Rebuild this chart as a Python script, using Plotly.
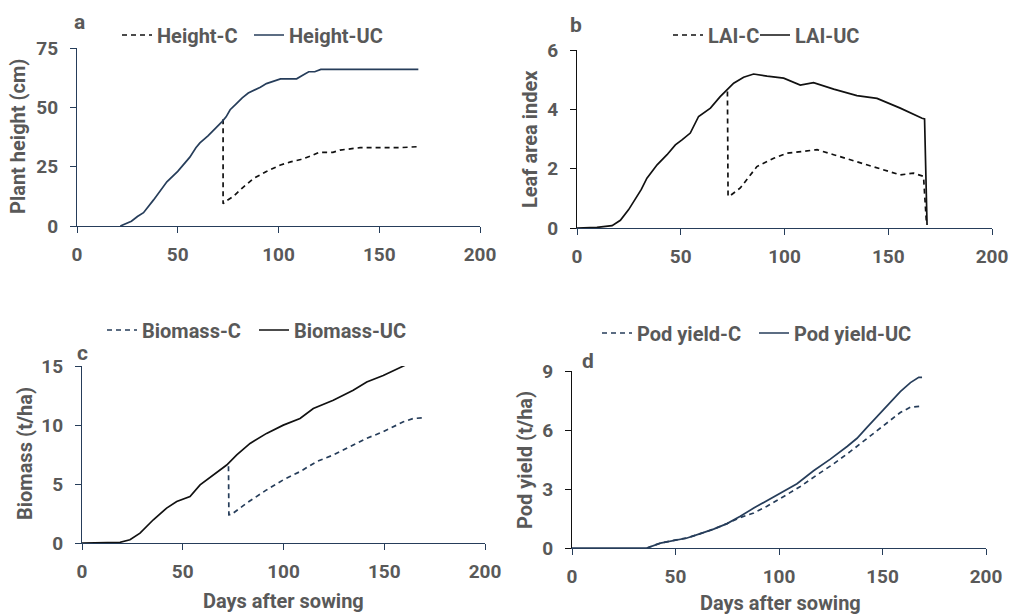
import plotly.graph_objects as go

# ---------------- data ----------------
# Panel a: plant height (cm)
h_uc_x = [21.5, 24, 27, 30, 33, 38, 44.6, 50, 53, 56, 59, 61, 65, 68, 72, 74, 76, 79, 82, 85, 87.6, 91, 94, 97, 101, 105, 109, 112, 115, 118, 121, 140, 169.4]
h_uc_y = [0, 0.8, 2, 4, 5.6, 11, 18.6, 23, 26, 29, 33, 35, 38, 40.5, 44, 46, 49, 51.5, 54, 56, 57, 58.5, 60, 61, 62, 62, 62, 63.5, 65, 65, 66, 66, 66]
h_c_x = [72.5, 72.5, 74, 77.7, 82, 87.6, 94, 101, 106, 111, 116, 120, 127, 130.6, 140.5, 150, 160, 168.6, 169.4]
h_c_y = [45, 9.4, 10.5, 12.5, 16, 20, 23, 25.7, 27, 28, 29.5, 31, 31, 32, 33, 33, 33, 33.4, 34.4]

# Panel b: leaf area index
l_uc_x = [0, 9.6, 16.9, 20.9, 24.9, 28.9, 31, 33.7, 38.6, 43.4, 47.4, 50.6, 54.6, 58.6, 64.3, 69, 72.3, 75.5, 80.3, 85.1, 91.6, 99.6, 107.6, 114, 123.7, 134.9, 144.6, 155.8, 166.3, 167.5, 168.7]
l_uc_y = [0, 0.02, 0.08, 0.26, 0.62, 1.07, 1.3, 1.68, 2.13, 2.47, 2.8, 2.97, 3.2, 3.76, 4.04, 4.43, 4.65, 4.88, 5.08, 5.19, 5.12, 5.05, 4.82, 4.9, 4.68, 4.46, 4.37, 4.04, 3.7, 3.68, 0.1]
l_c_x = [72.5, 72.8, 74, 78.7, 86.7, 94.8, 101.2, 107.6, 115.7, 123.7, 139.8, 147.8, 155.8, 162.2, 167, 168.4]
l_c_y = [4.6, 1.07, 1.1, 1.35, 2.07, 2.35, 2.52, 2.58, 2.64, 2.47, 2.13, 1.96, 1.79, 1.85, 1.74, 0.17]

# Panel c: biomass (t/ha)
b_uc_x = [0, 18.9, 23.8, 28.8, 35.4, 42, 47, 53.6, 58.6, 65.2, 71.8, 76.8, 83.4, 91.6, 99.9, 108.2, 114.8, 124.7, 134.6, 141.3, 149.5, 160.3]
b_uc_y = [0, 0.06, 0.28, 0.84, 1.97, 2.96, 3.52, 3.94, 4.93, 5.77, 6.61, 7.46, 8.44, 9.29, 9.99, 10.55, 11.4, 12.1, 12.95, 13.65, 14.2, 15.06]
b_c_x = [72.7, 72.9, 74, 81.7, 91.6, 99.9, 108.2, 116.5, 124.7, 133, 141.3, 149.5, 159.5, 164.4, 169.4]
b_c_y = [6.5, 2.39, 2.4, 3.38, 4.5, 5.35, 6.05, 6.9, 7.46, 8.16, 8.87, 9.43, 10.27, 10.55, 10.61]

# Panel d: pod yield (t/ha)
p_uc_x = [0, 36.2, 42.7, 49.1, 55.6, 62, 68.4, 74.9, 81.3, 87.8, 94.2, 100.6, 108.7, 116.7, 124.8, 132.9, 137.7, 142.5, 150.6, 158.6, 163.5, 167.5, 169.1]
p_uc_y = [0, 0, 0.25, 0.39, 0.51, 0.73, 0.96, 1.24, 1.61, 2.03, 2.42, 2.79, 3.27, 3.93, 4.52, 5.16, 5.58, 6.13, 7.02, 7.95, 8.41, 8.68, 8.68]
p_c_x = [36.2, 42.7, 49.1, 55.6, 62, 68.4, 74.9, 81.3, 87.8, 94.2, 102.3, 110.3, 118.4, 126.4, 134.5, 142.5, 150.6, 158.6, 163.5, 169.6]
p_c_y = [0, 0.25, 0.39, 0.51, 0.73, 0.96, 1.24, 1.55, 1.78, 2.12, 2.62, 3.13, 3.72, 4.28, 4.91, 5.58, 6.26, 6.89, 7.16, 7.22]

x_ticks = [0, 50, 100, 150, 200]

# ---------------- style ----------------
NAVY = "#263D5A"
BLACK = "#111111"
GRAY = "#595959"
FONT = "Roboto"
W, H = 1009, 615
DASH = "5px,4px"
TICK_SIZE = 19
TEXT_SIZE = 20

def px_x(p):
    return p / W

def px_y(p):
    return 1 - p / H

fig = go.Figure()

panels = [
    ("x", "y", (77, 480), (48, 226), 75, 25, NAVY, NAVY),
    ("x2", "y2", (577, 992), (50, 228), 6, 2, BLACK, NAVY),
    ("x3", "y3", (82, 485), (366, 543), 15, 5, NAVY, NAVY),
    ("x4", "y4", (572, 986), (371, 548), 9, 3, BLACK, NAVY),
]

# each series gets its own one-item legend so spacing can match the reference
series = [
    (h_c_x, h_c_y, "Height-C", BLACK, DASH, "x", "y", "legend", (125, 35)),
    (h_uc_x, h_uc_y, "Height-UC", NAVY, "solid", "x", "y", "legend2", (257, 35)),
    (l_c_x, l_c_y, "LAI-C", BLACK, DASH, "x2", "y2", "legend3", (676, 35)),
    (l_uc_x, l_uc_y, "LAI-UC", BLACK, "solid", "x2", "y2", "legend4", (763, 35)),
    (b_c_x, b_c_y, "Biomass-C", NAVY, DASH, "x3", "y3", "legend5", (110, 330)),
    (b_uc_x, b_uc_y, "Biomass-UC", BLACK, "solid", "x3", "y3", "legend6", (262, 330)),
    (p_c_x, p_c_y, "Pod yield-C", NAVY, DASH, "x4", "y4", "legend7", (605, 333)),
    (p_uc_x, p_uc_y, "Pod yield-UC", NAVY, "solid", "x4", "y4", "legend8", (762, 333)),
]

for xs, ys, name, col, dash, xa, ya, lg, _ in series:
    fig.add_trace(go.Scatter(
        x=xs, y=ys, mode="lines", name=name, xaxis=xa, yaxis=ya, legend=lg,
        line=dict(color=col, width=1.7, dash=dash), cliponaxis=False,
    ))

tickfont = dict(family=FONT, size=TICK_SIZE, color=GRAY, weight="bold")
layout = dict(
    width=W, height=H, margin=dict(l=0, r=0, t=0, b=0, autoexpand=False),
    paper_bgcolor="white", plot_bgcolor="white", showlegend=True,
    font=dict(family=FONT, color=GRAY),
)

for xa, ya, (x0, x1), (y0, y1), ymax, ydt, ylc, xlc in panels:
    xkey = "xaxis" + xa[1:]
    ykey = "yaxis" + ya[1:]
    layout[xkey] = dict(
        domain=[px_x(x0), px_x(x1)], anchor=ya, range=[0, 200], automargin=False,
        tickvals=x_ticks, showgrid=False, zeroline=False, showline=True,
        linecolor=xlc, linewidth=1.3, ticks="outside", ticklen=6, tickcolor=xlc,
        tickwidth=1.3, tickfont=tickfont, ticklabelstandoff=5,
    )
    layout[ykey] = dict(
        domain=[px_y(y1), px_y(y0)], anchor=xa, range=[0, ymax], automargin=False,
        dtick=ydt, tick0=0, showgrid=False, zeroline=False, showline=True,
        linecolor=ylc, linewidth=1.3, ticks="outside", ticklen=6, tickcolor=ylc,
        tickwidth=1.3, tickfont=tickfont, ticklabelstandoff=8,
    )

for *_, lg, (lx, ly) in series:
    layout[lg] = dict(
        x=px_x(lx - 8), y=px_y(ly), xanchor="left", yanchor="middle",
        orientation="h", bgcolor="rgba(0,0,0,0)",
        font=dict(family=FONT, size=TEXT_SIZE, color=GRAY, weight="bold"),
        itemwidth=30, tracegroupgap=0,
    )

fig.update_layout(**layout)

# axis titles and panel letters
ann = []
title_font = dict(family=FONT, size=TEXT_SIZE, color=GRAY, weight="bold")
ytitles = [("Plant height (cm)", 18, 137), ("Leaf area index", 530, 139),
           ("Biomass (t/ha)", 25, 454), ("Pod yield (t/ha)", 525, 460)]
for t, xx, yy in ytitles:
    ann.append(dict(text=t, x=px_x(xx), y=px_y(yy), xref="paper", yref="paper",
                    showarrow=False, textangle=-90, font=title_font,
                    xanchor="center", yanchor="middle"))
xtitles = [("Days after sowing", 283, 601), ("Days after sowing", 780, 603)]
for t, xx, yy in xtitles:
    ann.append(dict(text=t, x=px_x(xx), y=px_y(yy), xref="paper", yref="paper",
                    showarrow=False, font=title_font, xanchor="center", yanchor="middle"))
letters = [("a", 79, 22), ("b", 576, 25), ("c", 82, 353), ("d", 588, 361)]
for t, xx, yy in letters:
    ann.append(dict(text=t, x=px_x(xx), y=px_y(yy), xref="paper", yref="paper",
                    showarrow=False, font=dict(family=FONT, size=21, color=GRAY, weight="bold"),
                    xanchor="center", yanchor="middle"))
fig.update_layout(annotations=ann)

fig.write_html(
    "out.html",
    config={"displayModeBar": False},
    post_script="document.body.style.margin='0';document.body.style.overflow='hidden';",
)
